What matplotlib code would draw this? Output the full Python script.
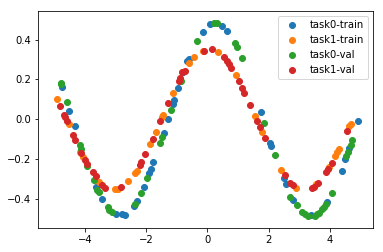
import matplotlib
matplotlib.use("Agg")
import matplotlib.pyplot as plt

task0_train_x = [-4.745, -4.516, -4.346, -3.644, -3.438, -3.000, -2.784, -2.712, -2.402, -2.294,
                 -2.065, -1.902, -1.837, -1.771, -1.431, -1.281, -1.118, -1.085, -0.954, -0.801,
                 -0.660, -0.605, -0.163, 0.082, 0.464, 0.654, 1.748, 2.042, 2.085, 2.500,
                 2.556, 2.810, 3.392, 3.899, 4.386, 4.510, 4.624, 4.928]
task0_train_y = [0.162, 0.040, -0.035, -0.339, -0.402, -0.478, -0.477, -0.482, -0.434, -0.411,
                 -0.342, -0.271, -0.250, -0.216, -0.070, -0.001, 0.077, 0.096, 0.155, 0.239,
                 0.293, 0.303, 0.437, 0.478, 0.471, 0.442, 0.035, -0.121, -0.133, -0.293,
                 -0.325, -0.406, -0.481, -0.416, -0.260, -0.201, -0.146, -0.010]

task1_train_x = [-4.908, -4.542, -4.167, -4.059, -3.539, -3.029, -2.925, -2.588, -2.369, -2.314,
                 -1.869, -1.673, -1.497, -1.444, -1.118, -0.595, -0.425, -0.163, 0.353, 0.931,
                 1.569, 1.771, 2.402, 2.902, 3.546, 3.971, 4.167, 4.248, 4.304, 4.634, 4.690]
task1_train_y = [0.101, -0.025, -0.166, -0.191, -0.315, -0.352, -0.352, -0.311, -0.268, -0.258,
                 -0.126, -0.065, 0.009, 0.023, 0.131, 0.281, 0.311, 0.344, 0.337, 0.223,
                 0.017, -0.062, -0.256, -0.344, -0.324, -0.238, -0.184, -0.163, -0.149, -0.034, -0.024]

task0_val_x = [-4.804, -4.788, -4.582, -4.160, -4.124, -3.928, -3.725, -3.601, -3.562, -3.268,
               -3.212, -3.127, -2.369, -2.163, -1.967, -1.542, -1.477, -1.203, -0.866, -0.359,
               0.222, 0.320, 0.908, 0.974, 1.137, 1.853, 2.216, 2.712, 2.925, 3.105,
               3.186, 3.278, 3.507, 3.578, 3.660, 3.742, 3.817, 3.866, 4.059, 4.536,
               4.592, 4.683, 4.739]
task0_val_y = [0.183, 0.176, 0.085, -0.130, -0.151, -0.237, -0.305, -0.358, -0.368, -0.442,
               -0.457, -0.466, -0.426, -0.372, -0.296, -0.121, -0.087, 0.047, 0.192, 0.392,
               0.485, 0.482, 0.382, 0.362, 0.307, -0.020, -0.179, -0.389, -0.432, -0.467,
               -0.477, -0.486, -0.485, -0.478, -0.470, -0.452, -0.440, -0.426, -0.372, -0.183,
               -0.163, -0.127, -0.102]

task1_val_x = [-4.810, -4.690, -4.647, -4.601, -4.412, -4.320, -4.127, -4.020, -3.928, -3.758,
               -3.650, -3.464, -3.340, -2.817, -2.206, -2.173, -2.033, -1.791, -1.546, -1.275,
               -0.922, -0.889, -0.817, -0.735, -0.105, 0.137, 0.546, 0.627, 0.709, 0.784,
               1.039, 1.137, 1.209, 1.399, 1.634, 1.725, 1.895, 2.549, 2.712, 2.794,
               3.405, 3.474, 3.621, 3.889, 3.938, 4.059, 4.575]
task1_val_y = [0.067, 0.023, 0.010, -0.011, -0.080, -0.104, -0.171, -0.205, -0.225, -0.266,
               -0.287, -0.329, -0.343, -0.342, -0.230, -0.216, -0.174, -0.101, -0.011, 0.081,
               0.193, 0.206, 0.238, 0.244, 0.345, 0.352, 0.313, 0.295, 0.278, 0.257,
               0.192, 0.156, 0.130, 0.071, -0.009, -0.037, -0.095, -0.281, -0.318, -0.329,
               -0.347, -0.339, -0.319, -0.263, -0.251, -0.221, -0.059]

labels = ["task0-train", "task1-train", "task0-val", "task1-val"]

fig = plt.figure(figsize=(383 / 72, 252 / 72), dpi=72)
ax = fig.add_axes([38 / 383, (252 - 227.7) / 252, (373 - 38) / 383, (227.7 - 11) / 252])

ax.scatter(task0_train_x, task0_train_y, color="#1f77b4", label=labels[0])
ax.scatter(task1_train_x, task1_train_y, color="#ff7f0e", label=labels[1])
ax.scatter(task0_val_x, task0_val_y, color="#2ca02c", label=labels[2])
ax.scatter(task1_val_x, task1_val_y, color="#d62728", label=labels[3])

ax.set_xlim(-5.54, 5.41)
ax.set_ylim(-0.545, 0.544)
ax.set_xticks([-4, -2, 0, 2, 4])
ax.set_yticks([-0.4, -0.2, 0.0, 0.2, 0.4])
ax.legend(loc="upper right")

fig.savefig("out.png", dpi=72)
